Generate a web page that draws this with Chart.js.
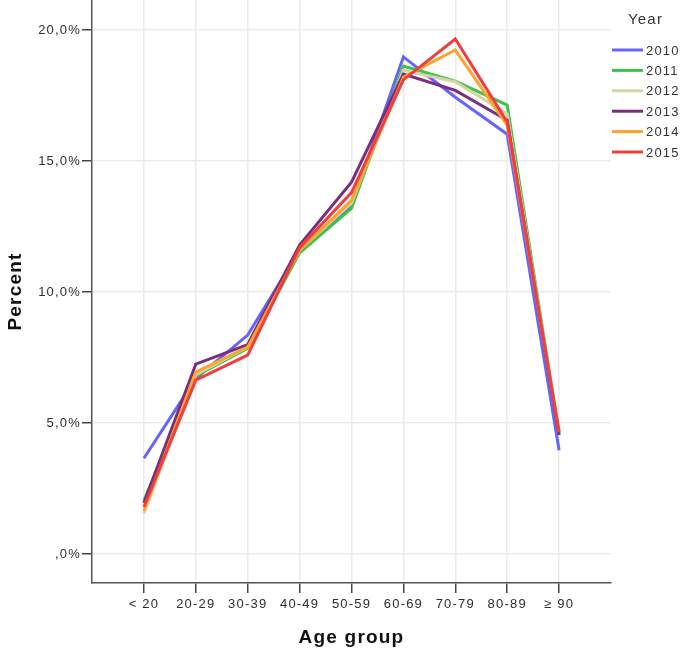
<!DOCTYPE html>
<html>
<head>
<meta charset="utf-8">
<script src="https://cdn.jsdelivr.net/npm/chart.js@4/dist/chart.umd.min.js"></script>
<style>
  html, body { margin: 0; padding: 0; background: #fff; }
  #wrap { width: 685px; height: 651px; }
</style>
</head>
<body>
<div id="wrap"><canvas id="myChart"></canvas></div>
<script>
const ageGroups = ['< 20', '20-29', '30-39', '40-49', '50-59', '60-69', '70-79', '80-89', '≥ 90'];
const years = ['2010', '2011', '2012', '2013', '2014', '2015'];
const yTicks = [0, 5, 10, 15, 20];

const pct2010 = [3.66, 6.7, 8.36, 11.6, 13.3, 18.98, 17.44, 16.03, 3.97];
const pct2011 = [2.05, 6.8, 7.85, 11.5, 13.2, 18.63, 18.05, 17.14, 4.6];
const pct2012 = [1.55, 6.85, 7.9, 11.6, 13.4, 18.47, 18.03, 16.8, 4.6];
const pct2013 = [1.95, 7.25, 8.0, 11.8, 14.2, 18.32, 17.7, 16.56, 4.55];
const pct2014 = [1.65, 6.95, 7.9, 11.6, 13.5, 18.2, 19.24, 16.37, 4.7];
const pct2015 = [1.8, 6.64, 7.6, 11.7, 13.8, 18.1, 19.66, 16.5, 4.65];

const series = [pct2010, pct2011, pct2012, pct2013, pct2014, pct2015];
const colors = ['#6464ff', '#3cc34a', '#d6d4a4', '#7a2e7e', '#ffa22e', '#f23d3d'];

const FONT = "'Liberation Sans', Arial, sans-serif";

// SPSS-style text is a bit spaced out
const spacing = {
  id: 'spacing',
  beforeLayout(chart) { chart.ctx.letterSpacing = '1.2px'; },
  beforeDraw(chart) { chart.ctx.letterSpacing = '1.2px'; }
};

// legend on the right, drawn by hand
const sideLegend = {
  id: 'sideLegend',
  afterDraw(chart) {
    const ctx = chart.ctx;
    ctx.save();
    ctx.letterSpacing = '1.2px';
    ctx.fillStyle = '#333';
    ctx.textBaseline = 'middle';
    ctx.font = '15px ' + FONT;
    ctx.fillText('Year', 628, 20);
    ctx.font = '13px ' + FONT;
    chart.data.datasets.forEach((ds, i) => {
      const y = 50 + i * 20.4;
      ctx.strokeStyle = ds.borderColor;
      ctx.lineWidth = 3;
      ctx.beginPath();
      ctx.moveTo(612, y);
      ctx.lineTo(643, y);
      ctx.stroke();
      ctx.fillStyle = '#333';
      ctx.fillText(ds.label, 646, y + 1);
    });
    ctx.restore();
  }
};

const ctx = document.getElementById('myChart').getContext('2d');
new Chart(ctx, {
  type: 'line',
  data: {
    datasets: years.map((yr, i) => ({
      label: yr,
      data: series[i].map((v, k) => ({ x: k, y: v })),
      borderColor: colors[i],
      backgroundColor: colors[i],
      borderWidth: 3,
      pointRadius: 0,
      tension: 0,
      order: years.length - i
    }))
  },
  options: {
    responsive: true,
    maintainAspectRatio: false,
    animation: false,
    layout: { padding: { left: 0, top: 0, right: 74, bottom: 0 } },
    plugins: { legend: { display: false }, tooltip: { enabled: false } },
    scales: {
      x: {
        type: 'linear',
        min: -1,
        max: 9,
        afterBuildTicks: (scale) => { scale.ticks = ageGroups.map((_, k) => ({ value: k })); },
        afterFit: (scale) => { scale.height = 68; scale.paddingLeft = 0; scale.paddingRight = 0; },
        border: { color: '#555', width: 1.5 },
        grid: { color: '#ebebeb', lineWidth: 1.5, tickColor: '#444', tickLength: 10, tickWidth: 1.5 },
        ticks: {
          autoSkip: false,
          maxRotation: 0,
          padding: 4,
          color: '#2e2e2e',
          font: { family: FONT, size: 13 },
          callback: (v) => ageGroups[v]
        },
        title: {
          display: true,
          text: 'Age group',
          color: '#111',
          font: { family: FONT, size: 19, weight: 'bold' },
          padding: { top: 4, bottom: 2 }
        }
      },
      y: {
        min: -1.1,
        max: 21.15,
        afterBuildTicks: (scale) => { scale.ticks = yTicks.map(v => ({ value: v })); },
        afterFit: (scale) => { scale.width = 92; scale.paddingTop = 0; scale.paddingBottom = 0; },
        border: { color: '#555', width: 1.5 },
        grid: { color: '#ebebeb', lineWidth: 1.5, tickColor: '#444', tickLength: 10, tickWidth: 1.5 },
        ticks: {
          padding: 1,
          color: '#2e2e2e',
          font: { family: FONT, size: 13 },
          callback: (v) => (v === 0 ? '' : v) + ',0%'
        },
        title: {
          display: true,
          text: 'Percent',
          color: '#111',
          font: { family: FONT, size: 19, weight: 'bold' },
          padding: { top: 4, bottom: 0 }
        }
      }
    }
  },
  plugins: [spacing, sideLegend]
});
</script>
</body>
</html>
